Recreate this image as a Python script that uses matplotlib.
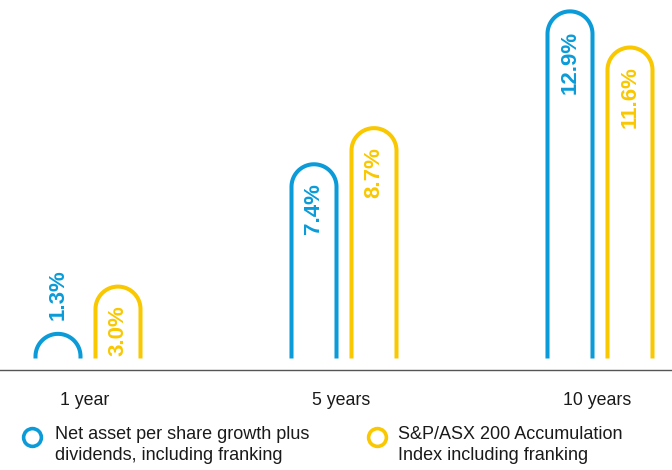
import numpy as np
from matplotlib import pyplot as plt

plt.rcParams['font.family'] = ['Liberation Sans', 'DejaVu Sans']

periods = ['1 year', '5 years', '10 years']
nav_growth = [1.3, 7.4, 12.9]      # Net asset per share growth plus dividends
asx200 = [3.0, 8.7, 11.6]          # S&P/ASX 200 Accumulation Index
series_names = ['Net asset per share growth plus\ndividends, including franking',
                'S&P/ASX 200 Accumulation\nIndex including franking']

BLUE = '#0a9bd8'
YELLOW = '#f9c800'
TEXT = '#1a1a1a'

W, H = 672, 470
PX_PER_UNIT = 27.8          # pixels per percentage point
ZERO_PX = 100               # zero line, pixels from bottom
GROUP_PX = 256              # pixels between groups
FIRST_PX = 88

fig = plt.figure(figsize=(W / 100, H / 100), dpi=100)
ax = fig.add_axes([0, 0, 1, 1])
ax.set_xlim(-FIRST_PX / GROUP_PX, (W - FIRST_PX) / GROUP_PX)
ax.set_ylim(-ZERO_PX / PX_PER_UNIT, (H - ZERO_PX) / PX_PER_UNIT)
ax.axis('off')

rx = 22.5 / GROUP_PX
ry = 22.5 / PX_PER_UNIT
gap = 11.5 / PX_PER_UNIT
offset = 30 / GROUP_PX


def arch(cx, top, color, label):
    base = max(top - ry, gap)
    t = np.linspace(np.pi, 0, 60)
    xs = np.concatenate([[cx - rx], cx + rx * np.cos(t), [cx + rx]])
    ys = np.concatenate([[gap], base + ry * np.sin(t), [gap]])
    ax.plot(xs, ys, color=color, lw=2.9, solid_capstyle='butt',
            solid_joinstyle='round')
    # short bars get the label above the arch
    if top * PX_PER_UNIT < 50:
        ax.text(cx, top + 14 / PX_PER_UNIT, label, rotation=90, ha='center',
                va='bottom', color=color, fontsize=16, fontweight='bold')
    else:
        ax.text(cx, top - 19 / PX_PER_UNIT, label, rotation=90, ha='center',
                va='top', color=color, fontsize=16, fontweight='bold')


for i in range(len(periods)):
    arch(i - offset, nav_growth[i], BLUE, f'{nav_growth[i]:.1f}%')
    arch(i + offset, asx200[i], YELLOW, f'{asx200[i]:.1f}%')
    ax.text(i - 0.012, -35 / PX_PER_UNIT, periods[i], ha='center',
            va='baseline', fontsize=12.8, color=TEXT)

ax.axhline(0, color='#555555', lw=1.0)

# legend
for cx, tx, color, name in [(32, 55, BLUE, series_names[0]),
                            (377, 398, YELLOW, series_names[1])]:
    ax.plot([cx / W], [1 - 437 / H], marker='o', ms=12.8, mfc='white',
            mec=color, mew=2.6, transform=fig.transFigure, clip_on=False)
    fig.text(tx / W, 1 - 426 / H, name, ha='left', va='top', fontsize=13,
             color=TEXT, linespacing=1.3)

fig.savefig('out.png', dpi=100)
